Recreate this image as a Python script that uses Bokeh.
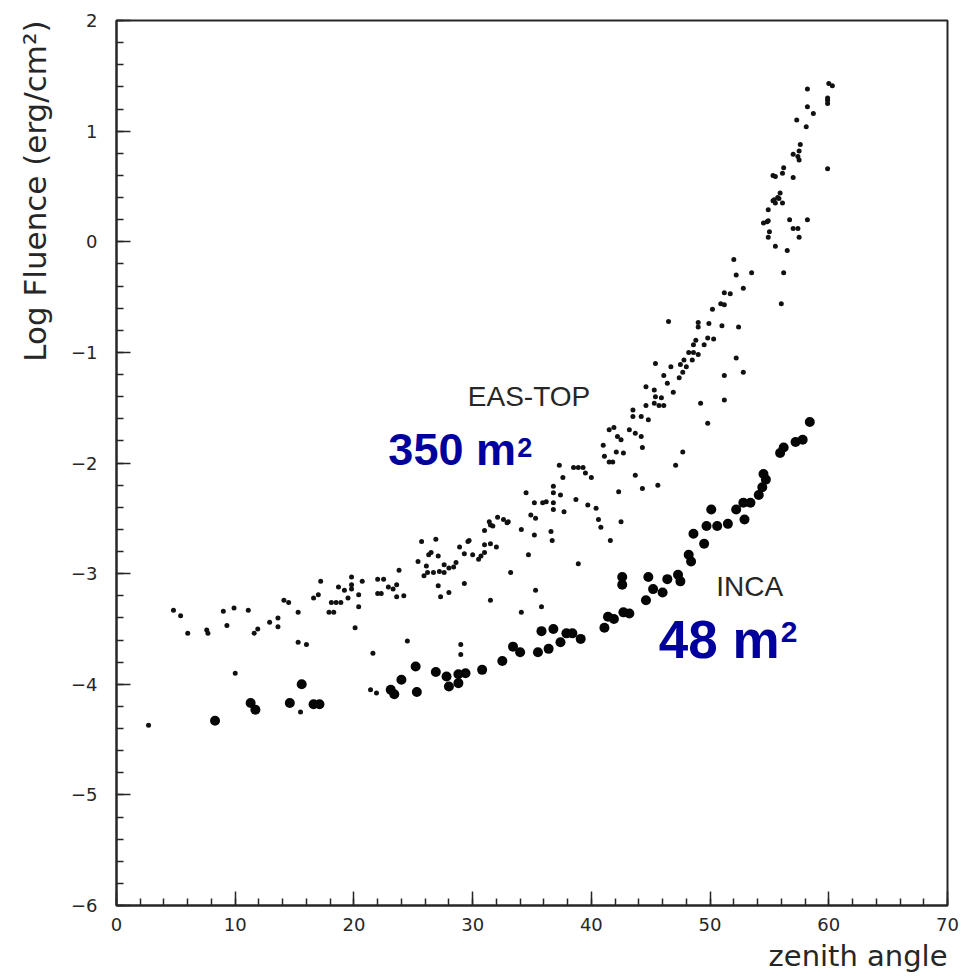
from bokeh.plotting import figure
from bokeh.models import Range1d, SingleIntervalTicker, Label, ColumnDataSource, Title
from bokeh.embed import file_html
from bokeh.resources import INLINE

# ---------------- data ----------------
eas_top_angle = [
    2.7, 4.8, 5.4, 6.0, 7.6, 7.7, 9.0, 9.3, 9.9, 10.0, 11.1, 11.6, 11.9, 12.9, 13.6, 13.6,
    14.1, 14.5, 15.3, 15.3, 16.0, 15.5, 16.6, 17.0, 17.2, 17.9, 18.3, 18.1, 18.5, 18.9,
    18.7, 19.2, 19.8, 19.8, 19.8, 19.5, 20.4, 20.1, 20.4, 20.7, 21.6, 21.4, 21.9, 22.0,
    22.5, 22.0, 22.3, 22.9, 23.3, 23.6, 23.6, 23.8, 24.2, 24.5,
    25.4, 25.7, 26.3, 27.1, 26.1, 26.2, 25.9, 26.7, 27.2, 27.3, 26.9, 26.5, 27.6, 28.0,
    28.4, 28.6, 27.6, 27.1, 28.0, 29.3, 28.9, 29.6, 29.7, 29.3, 30.0, 30.5, 30.7, 31.0,
    31.0, 31.5, 32.0, 31.0, 31.7, 31.4, 33.0, 34.1, 35.2, 36.6, 36.7, 34.7, 33.2, 31.5,
    34.1, 35.3, 35.8, 38.9, 40.6, 40.8, 42.5, 41.6, 29.0, 29.0, 31.5, 32.1, 32.6, 32.9,
    34.5, 35.2, 34.9, 35.3, 35.9, 36.2, 36.8, 36.8, 37.4, 36.8, 37.7, 37.3, 37.6, 36.8,
    38.5, 38.9, 39.3, 40.0, 39.5, 38.7, 39.7, 40.4,
    41.0, 41.1, 41.5, 41.8, 41.5, 41.9, 42.2, 42.5, 42.1, 42.7, 42.3, 43.7, 43.2, 43.7,
    44.2, 44.3, 43.5, 43.5, 44.2, 44.6, 44.8, 44.6, 45.3, 45.4, 45.9, 45.7, 46.1, 45.3,
    45.4, 46.1, 46.7, 47.5, 47.7, 47.4, 46.4, 46.9, 47.8, 48.5, 48.6, 48.6, 48.8, 49.5,
    49.8, 49.0, 49.2, 49.8, 47.7, 47.1, 45.6, 44.3, 51.2, 51.2, 52.2, 52.8, 46.5, 49.0,
    49.0, 49.9, 51.0, 52.4, 50.2, 50.9, 51.2, 51.2, 51.7, 52.8, 52.0, 52.2, 53.5, 50.3,
    48.2, 48.0, 56.2, 56.0,
    54.9, 54.8, 54.9, 54.5, 55.0, 54.9, 55.5, 56.5, 55.8, 55.4, 56.1, 55.9, 55.7, 55.3,
    55.5, 56.7, 58.2, 57.0, 57.4, 57.5, 55.3, 55.5, 56.2, 56.1, 57.0, 59.9, 57.6, 57.5,
    57.0, 57.4, 57.5, 57.3, 58.1, 58.2, 58.7, 58.2, 59.9, 59.9, 59.9, 60.0, 60.3,
]
eas_top_logf = [
    -4.37, -3.33, -3.38, -3.54, -3.51, -3.54, -3.34, -3.47, -3.31, -3.90, -3.33, -3.54, -3.50, -3.44, -3.40, -3.48,
    -3.24, -3.26, -3.35, -3.62, -3.64, -4.25, -3.22, -3.19, -3.07, -3.35, -3.35, -3.26, -3.26, -3.26,
    -3.12, -3.15, -3.03, -3.10, -3.14, -3.22, -3.30, -3.49, -3.19, -3.07, -3.72, -4.05, -4.08, -3.05,
    -3.05, -3.18, -3.18, -3.12, -3.14, -3.10, -3.21, -2.97, -3.20, -3.61,
    -2.89, -2.71, -2.83, -2.84, -2.93, -2.99, -3.02, -2.99, -2.98, -3.21, -2.69, -2.81, -2.92, -2.95,
    -2.94, -2.90, -2.99, -3.11, -3.17, -3.09, -2.76, -2.71, -2.70, -2.82, -2.83, -2.87, -2.84, -2.81,
    -2.74, -2.73, -2.76, -2.61, -2.57, -2.53, -2.53, -2.60, -2.65, -2.62, -2.70, -2.83, -2.99, -3.24,
    -3.35, -3.15, -3.30, -2.91, -2.51, -2.58, -2.53, -2.70, -3.64, -3.73, -2.56, -2.49, -2.51, -2.54,
    -2.27, -2.36, -2.47, -2.50, -2.36, -2.35, -2.36, -2.27, -2.29, -2.42, -2.44, -2.02, -2.13, -2.21,
    -2.04, -2.04, -2.04, -2.13, -2.09, -2.33, -2.38, -2.41,
    -1.84, -1.94, -1.99, -1.99, -1.70, -1.68, -1.76, -1.79, -1.90, -1.91, -2.26, -2.11, -1.70, -1.73,
    -1.76, -1.86, -1.52, -1.58, -1.58, -1.48, -1.61, -1.31, -1.34, -1.40, -1.41, -1.48, -1.48, -1.46,
    -1.10, -1.21, -1.13, -1.11, -1.18, -1.23, -1.28, -1.36, -1.07, -1.07, -1.00, -0.93, -0.89, -0.93,
    -0.87, -1.02, -1.46, -1.64, -1.90, -2.02, -2.20, -2.23, -1.21, -1.43, -1.05, -1.18, -0.72, -0.73,
    -0.77, -0.74, -0.76, -0.77, -0.61, -0.56, -0.57, -0.46, -0.47, -0.42, -0.16, -0.30, -0.28, -0.88,
    -1.00, -1.13, -0.28, -0.56,
    0.29, 0.18, 0.19, 0.17, 0.09, 0.04, -0.04, -0.08, 0.39, 0.38, 0.35, 0.44, 0.40, 0.37,
    0.35, 0.20, 0.20, 0.12, 0.12, 0.04, 0.60, 0.59, 0.67, 0.62, 0.58, 0.66, 0.88, 0.82,
    0.79, 0.77, 0.74, 1.10, 1.04, 1.22, 1.16, 1.38, 1.30, 1.28, 1.25, 1.43, 1.41,
]

inca_angle = [
    8.3, 11.3, 11.7, 14.6, 15.6, 16.6, 17.1, 23.1, 23.4, 24.0, 25.3, 25.2, 26.9, 27.8,
    28.0, 28.8, 28.8, 29.4, 30.8, 32.5, 33.4, 34.0, 35.5, 36.4, 37.4, 35.8, 36.8, 37.9,
    38.4, 39.1, 41.1, 41.4, 41.9, 42.7, 43.2, 42.6, 42.6, 44.8, 45.2, 44.6, 46.0, 46.4,
    47.3, 47.5, 48.2, 48.4, 48.6, 49.5, 49.7, 50.6, 51.5, 50.1, 52.2, 52.9, 52.8, 53.4,
    54.1, 54.4, 54.7, 54.5, 55.9, 56.2, 57.2, 57.8, 58.4,
]
inca_logf = [
    -4.33, -4.17, -4.23, -4.17, -4.00, -4.18, -4.18, -4.05, -4.09, -3.96, -4.07, -3.84, -3.89, -3.93,
    -4.02, -3.99, -3.91, -3.90, -3.87, -3.79, -3.66, -3.71, -3.71, -3.68, -3.62, -3.52, -3.50, -3.54,
    -3.54, -3.59, -3.49, -3.39, -3.41, -3.35, -3.36, -3.03, -3.10, -3.03, -3.14, -3.24, -3.17, -3.05,
    -3.01, -3.07, -2.83, -2.89, -2.64, -2.73, -2.57, -2.57, -2.55, -2.42, -2.42, -2.51, -2.36, -2.36,
    -2.29, -2.22, -2.15, -2.10, -1.91, -1.86, -1.81, -1.79, -1.63,
]

y_ticks = [-6, -5, -4, -3, -2, -1, 0, 1, 2]
y_tick_labels = ["\u22126", "\u22125", "\u22124", "\u22123", "\u22122", "\u22121", "0", "1", "2"]
x_ticks = [0, 10, 20, 30, 40, 50, 60, 70]
x_tick_labels = ["0", "10", "20", "30", "40", "50", "60", "70"]

# ---------------- figure ----------------
INK = "#262626"
BLUE = "#00009C"

p = figure(width=960, height=975, title=None,
           x_range=Range1d(0, 70), y_range=Range1d(-6, 2),
           output_backend="svg", toolbar_location=None,
           min_border_left=115, min_border_right=13,
           min_border_top=20, min_border_bottom=69)

p.xgrid.visible = False
p.ygrid.visible = False
p.outline_line_color = INK
p.outline_line_width = 2
p.background_fill_color = "white"
p.border_fill_color = "white"

p.xaxis.ticker = SingleIntervalTicker(interval=10, num_minor_ticks=5)
p.yaxis.ticker = SingleIntervalTicker(interval=1, num_minor_ticks=5)
p.xaxis.major_label_overrides = dict(zip(x_ticks, x_tick_labels))
p.yaxis.major_label_overrides = dict(zip(y_ticks, y_tick_labels))

for ax in (p.xaxis[0], p.yaxis[0]):
    ax.axis_line_color = INK
    ax.axis_line_width = 2
    ax.major_tick_line_color = INK
    ax.minor_tick_line_color = INK
    ax.major_tick_line_width = 1.5
    ax.minor_tick_line_width = 1.5
    ax.major_tick_in = 14
    ax.major_tick_out = 0
    ax.minor_tick_in = 7
    ax.minor_tick_out = 0
    ax.major_label_text_font = "DejaVu Sans"
    ax.major_label_text_font_size = "18px"
    ax.major_label_text_color = INK
p.xaxis.major_label_standoff = 12
p.yaxis.major_label_standoff = 19

src_e = ColumnDataSource(dict(x=eas_top_angle, y=eas_top_logf))
src_i = ColumnDataSource(dict(x=inca_angle, y=inca_logf))
p.scatter("x", "y", source=src_e, size=5, color="#111111", line_width=0)
p.scatter("x", "y", source=src_i, size=10, color="#050505", line_width=0)

# ---------------- axis titles ----------------
p.add_layout(Title(text="Log Fluence (erg/cm\u00b2)", align="right", standoff=29,
                   text_font="DejaVu Sans", text_font_style="normal",
                   text_font_size="31px", text_color=INK), "left")
p.add_layout(Title(text="zenith angle", align="right", standoff=6,
                   text_font="DejaVu Sans", text_font_style="normal",
                   text_font_size="29px", text_color=INK), "below")

# ---------------- texts ----------------
p.add_layout(Label(x=34.75, y=-1.40, text="EAS-TOP", text_align="center", text_baseline="middle",
                   text_font="Liberation Sans", text_font_size="28px", text_color=INK))
p.add_layout(Label(x=53.34, y=-3.12, text="INCA", text_align="center", text_baseline="middle",
                   text_font="Liberation Sans", text_font_size="28px", text_color=INK))

p.add_layout(Label(x=22.9, y=-1.874, text="350 m", text_align="left", text_baseline="middle",
                   text_font="Liberation Sans", text_font_style="bold",
                   text_font_size="45px", text_color=BLUE))
p.add_layout(Label(x=33.75, y=-1.77, text="2", text_align="left", text_baseline="top",
                   text_font="Liberation Sans", text_font_style="bold",
                   text_font_size="27px", text_color=BLUE))
p.add_layout(Label(x=45.68, y=-3.598, text="48 m", text_align="left", text_baseline="middle",
                   text_font="Liberation Sans", text_font_style="bold",
                   text_font_size="53px", text_color=BLUE))
p.add_layout(Label(x=55.95, y=-3.44, text="2", text_align="left", text_baseline="top",
                   text_font="Liberation Sans", text_font_style="bold",
                   text_font_size="30px", text_color=BLUE))

open("out.html", "w").write(file_html(p, INLINE))
